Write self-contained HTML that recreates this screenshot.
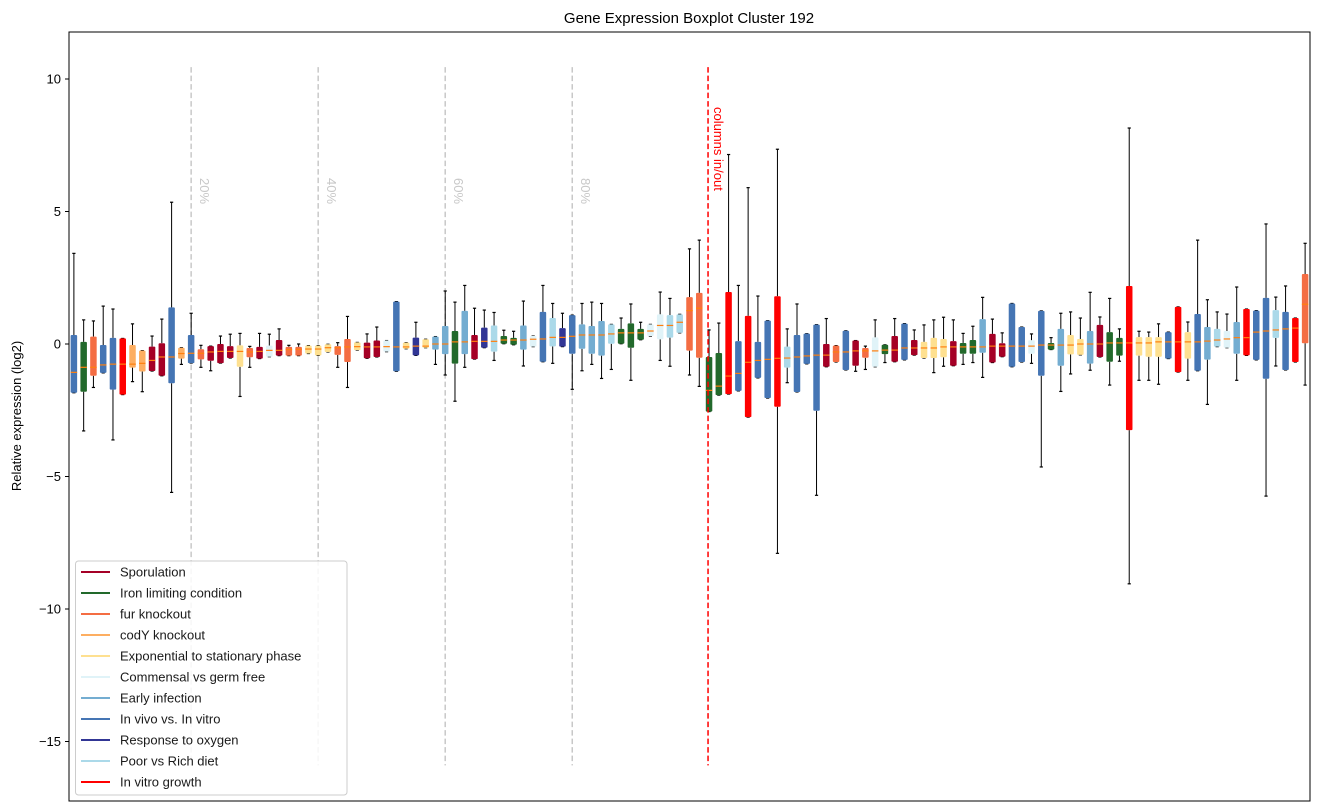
<!DOCTYPE html>
<html><head><meta charset="utf-8"><title>Gene Expression Boxplot Cluster 192</title>
<style>
html,body{margin:0;padding:0;background:#fff;}
svg{display:block;font-family:"Liberation Sans","DejaVu Sans",sans-serif;}
</style></head>
<body>
<svg id="chart" width="1318" height="812" viewBox="0 0 1318 812" xmlns="http://www.w3.org/2000/svg">
<rect x="0" y="0" width="1318" height="812" fill="#fff"/>
<text x="689" y="23" text-anchor="middle" font-size="15" fill="#000">Gene Expression Boxplot Cluster 192</text>
<text transform="translate(21,416) rotate(-90)" text-anchor="middle" font-size="13" fill="#000">Relative expression (log2)</text>
<g id="plot"></g>
<rect x="69" y="32" width="1241" height="769" fill="none" stroke="#000" stroke-width="1"/>
</svg>
<script>
const groupNames = ["Sporulation","Iron limiting condition","fur knockout","codY knockout","Exponential to stationary phase","Commensal vs germ free","Early infection","In vivo vs. In vitro","Response to oxygen","Poor vs Rich diet","In vitro growth"];
const groupColors = ["#a50026","#22692b","#f46d43","#fdae61","#fee090","#e0f3f8","#74add1","#4575b4","#313695","#abd9e9","#ff0000"];
// group index per box (S0 I1 F2 C3 E4 M5 A6 V7 O8 P9 R10)
const boxGroup = [7,1,2,7,7,10,3,3,0,0,7,3,7,2,0,0,0,4,2,0,5,0,2,2,4,4,4,2,2,4,0,0,5,7,4,8,4,6,6,1,6,0,8,9,1,1,6,5,7,9,8,7,6,6,6,9,1,1,1,5,5,9,9,2,2,1,1,10,7,10,7,7,10,9,7,7,7,0,2,7,0,2,5,1,0,7,0,4,4,4,0,1,1,6,0,0,7,7,5,7,1,6,4,4,6,0,1,1,10,4,4,4,7,10,4,7,6,9,5,6,10,7,7,9,7,10,2];
const whiskerHigh = [3.42,0.91,0.87,1.43,1.32,0.21,0.76,-0.25,0.30,0.94,5.35,-0.14,1.16,-0.05,-0.08,0.30,0.37,0.40,-0.09,0.40,0.37,0.57,-0.05,0.00,-0.06,-0.06,-0.01,0.05,1.04,0.06,0.38,0.64,0.13,1.60,0.05,0.82,0.18,0.28,2.00,1.58,2.21,1.35,1.28,1.19,0.52,0.48,1.62,0.30,2.21,1.53,1.16,1.09,1.53,1.58,1.53,0.74,0.98,1.51,0.82,0.74,1.96,1.72,1.12,3.59,3.92,0.53,0.79,7.15,2.21,5.90,1.81,0.88,7.35,0.57,1.51,0.39,0.73,0.96,-0.06,0.50,0.13,-0.08,0.91,-0.03,0.96,0.77,0.53,0.72,0.91,1.01,0.91,0.40,0.67,1.76,0.94,0.42,1.53,0.64,0.38,1.25,0.24,1.16,1.21,0.98,1.95,1.02,1.72,0.57,8.15,0.48,0.45,0.76,0.45,1.40,0.83,3.92,1.67,1.21,1.13,2.15,1.32,1.26,4.53,1.77,2.19,0.98,3.80];
const q3 = [0.34,0.08,0.28,-0.04,0.23,0.21,-0.04,-0.25,-0.10,0.03,1.38,-0.14,0.34,-0.20,-0.08,0.00,-0.08,-0.05,-0.15,-0.11,-0.06,0.15,-0.11,-0.11,-0.06,-0.06,-0.01,-0.08,0.19,0.06,0.05,0.13,0.13,1.60,0.05,0.24,0.18,0.28,0.68,0.49,1.25,0.34,0.62,0.70,0.30,0.23,0.70,0.30,1.21,0.98,0.60,1.09,0.74,0.68,0.87,0.74,0.57,0.78,0.57,0.74,1.12,1.09,1.12,1.77,1.93,-0.49,-0.34,1.96,0.11,1.06,0.08,0.88,1.80,-0.10,0.34,0.39,0.73,0.00,-0.06,0.50,0.13,-0.15,0.25,-0.03,0.30,0.77,0.15,0.08,0.23,0.19,0.11,0.04,0.15,0.94,0.38,0.03,1.53,0.64,0.14,1.25,0.04,0.57,0.34,0.19,0.49,0.72,0.45,0.23,2.19,0.26,0.26,0.26,0.45,1.40,0.45,1.13,0.64,0.57,0.49,0.83,1.32,1.26,1.74,1.28,1.21,0.98,2.64];
const medians = [-1.07,-0.88,-0.88,-0.79,-0.76,-0.76,-0.76,-0.73,-0.62,-0.49,-0.49,-0.36,-0.35,-0.35,-0.30,-0.28,-0.28,-0.28,-0.30,-0.28,-0.24,-0.24,-0.21,-0.20,-0.19,-0.19,-0.14,-0.14,-0.11,-0.10,-0.11,-0.11,-0.10,-0.11,-0.11,-0.08,-0.08,0.00,0.00,0.08,0.08,0.10,0.10,0.10,0.15,0.15,0.15,0.18,0.19,0.25,0.25,0.29,0.34,0.34,0.34,0.38,0.42,0.42,0.42,0.49,0.70,0.70,0.82,1.26,1.35,-1.75,-1.59,-1.21,-1.11,-0.69,-0.62,-0.58,-0.54,-0.53,-0.49,-0.45,-0.42,-0.42,-0.30,-0.30,-0.26,-0.26,-0.26,-0.23,-0.23,-0.15,-0.15,-0.15,-0.15,-0.11,-0.11,-0.11,-0.11,-0.11,-0.08,-0.08,-0.08,-0.08,-0.08,-0.04,-0.04,-0.04,-0.04,0.00,0.00,0.00,0.04,0.04,0.04,0.04,0.04,0.08,0.08,0.08,0.08,0.08,0.11,0.15,0.19,0.24,0.24,0.45,0.49,0.53,0.57,0.60,1.50];
const q1 = [-1.84,-1.80,-1.20,-1.09,-1.72,-1.91,-0.89,-1.04,-1.02,-1.20,-1.48,-0.55,-0.72,-0.58,-0.63,-0.72,-0.53,-0.86,-0.50,-0.55,-0.48,-0.44,-0.44,-0.44,-0.36,-0.43,-0.30,-0.41,-0.68,-0.23,-0.54,-0.49,-0.29,-1.03,-0.18,-0.43,-0.14,-0.21,-0.38,-0.74,-0.38,-0.57,-0.14,-0.29,0.01,-0.03,-0.21,-0.10,-0.67,-0.09,-0.10,-0.37,-0.18,-0.37,-0.44,0.01,0.01,-0.14,0.16,0.30,0.18,0.24,0.42,-0.25,-0.52,-2.55,-1.93,-1.89,-1.77,-2.76,-1.28,-2.04,-2.37,-0.89,-1.81,-0.75,-2.52,-0.86,-0.68,-0.98,-0.82,-0.52,-0.86,-0.38,-0.67,-0.60,-0.42,-0.53,-0.53,-0.50,-0.82,-0.37,-0.37,-0.33,-0.70,-0.48,-0.86,-0.68,-0.37,-1.20,-0.21,-0.82,-0.39,-0.41,-0.74,-0.49,-0.67,-0.44,-3.25,-0.44,-0.48,-0.48,-0.55,-1.06,-0.55,-1.01,-0.59,-0.10,-0.14,-0.37,-0.43,-0.60,-1.31,0.23,-0.98,-0.68,0.03];
const whiskerLow = [-1.84,-3.28,-1.64,-1.09,-3.62,-1.91,-1.42,-1.80,-1.02,-1.20,-5.60,-0.77,-0.72,-0.88,-1.01,-0.72,-0.53,-1.98,-0.88,-0.55,-0.48,-0.44,-0.44,-0.44,-0.36,-0.43,-0.30,-0.88,-1.64,-0.23,-0.54,-0.49,-0.29,-1.03,-0.18,-0.43,-0.14,-0.77,-1.17,-2.16,-0.88,-0.57,-0.14,-0.62,0.01,-0.03,-0.83,-0.10,-0.67,-0.73,-0.10,-1.71,-1.01,-0.77,-1.30,-0.96,0.01,-1.37,0.16,0.30,-0.62,-0.84,0.42,-1.17,-1.60,-2.55,-1.93,-1.89,-1.77,-2.76,-1.28,-2.04,-7.90,-1.46,-1.81,-0.75,-5.71,-0.86,-0.68,-0.98,-1.03,-0.96,-0.86,-0.70,-0.67,-0.60,-0.42,-0.53,-1.08,-0.84,-0.82,-0.77,-0.70,-1.26,-0.70,-0.48,-0.86,-0.68,-0.73,-4.64,-0.21,-1.79,-1.13,-0.41,-0.99,-0.49,-1.55,-0.65,-9.05,-1.37,-1.37,-1.52,-0.55,-1.06,-1.37,-1.01,-2.28,-0.10,-0.14,-1.37,-0.43,-0.60,-5.74,-0.83,-0.98,-0.68,-1.55];
const yTicks = [10,5,0,-5,-10,-15];
const percentPositions = [13,26,39,52];
const percentLabels = ["20%","40%","60%","80%"];
const splitPosition = 66;

const NS = "http://www.w3.org/2000/svg";
const plot = document.getElementById("plot");
const X0 = 69, STEP = 1241/127;
function xPos(p){ return X0 + (p-0.5)*STEP; }
function yPos(v){ return 344 - 26.5*v; }
function mk(tag, attrs, parent){
  const el = document.createElementNS(NS, tag);
  for (const k in attrs) el.setAttribute(k, attrs[k]);
  (parent||plot).appendChild(el);
  return el;
}

yTicks.forEach(t=>{
  const y = yPos(t);
  const tk = mk("line",{x1:65,x2:69,y1:y,y2:y,stroke:"#000","stroke-width":1});
  
  
  const lb = mk("text",{x:61,y:y+4.5,"text-anchor":"end","font-size":13,fill:"#000"});
  
  
  lb.textContent = t<0 ? "\u2212"+Math.abs(t) : String(t);
});

percentPositions.forEach((p,i)=>{
  const x = xPos(p);
  const ln = mk("line",{x1:x,x2:x,y1:yPos(10.45),y2:yPos(-15.9),stroke:"#c8c8c8","stroke-width":1.5,"stroke-dasharray":"5.5,3"});
  
  
  const tx = mk("text",{transform:`translate(${x+9},${178}) rotate(90)`,"font-size":13,fill:"#c8c8c8"});
  
  
  tx.textContent = percentLabels[i];
});

for (let i=0;i<boxGroup.length;i++){
  const x = xPos(i+1), w = 6.5, c = 3.2;
  const g = mk("g",{});
  
  
  const yh=yPos(whiskerHigh[i]), y3=yPos(q3[i]), ym=yPos(medians[i]), y1=yPos(q1[i]), yl=yPos(whiskerLow[i]);
  mk("line",{x1:x,x2:x,y1:yh,y2:y3,stroke:"#000","stroke-width":1},g);
  mk("line",{x1:x,x2:x,y1:y1,y2:yl,stroke:"#000","stroke-width":1},g);
  mk("line",{x1:x-c/2,x2:x+c/2,y1:yh,y2:yh,stroke:"#000","stroke-width":1.2},g);
  mk("line",{x1:x-c/2,x2:x+c/2,y1:yl,y2:yl,stroke:"#000","stroke-width":1.2},g);
  mk("rect",{x:x-w/2,y:y3,width:w,height:Math.max(1,y1-y3),fill:groupColors[boxGroup[i]],rx:1},g);
  mk("line",{x1:x-w/2,x2:x+w/2,y1:ym,y2:ym,stroke:"#ff7f0e","stroke-width":1.2},g);
}

{
  const x = xPos(splitPosition)-1;
  const ln = mk("line",{x1:x,x2:x,y1:yPos(10.45),y2:yPos(-15.9),stroke:"#ff0000","stroke-width":1.5,"stroke-dasharray":"5.5,3"});
  
  
  const tx = mk("text",{transform:`translate(${x+6},${107}) rotate(90)`,"font-size":13,fill:"#ff0000"});
  
  
  tx.textContent = "columns in/out";
}

{
  const lg = mk("g",{});
  
  
  mk("rect",{x:75.5,y:561,width:271.5,height:234,rx:3,fill:"#fff","fill-opacity":0.85,stroke:"#cccccc","stroke-width":1},lg);
  groupNames.forEach((n,k)=>{
    const y = 572 + 21*k;
    const e = mk("g",{},lg);
    
    
    mk("line",{x1:81,x2:110,y1:y,y2:y,stroke:groupColors[k],"stroke-width":2},e);
    const t = mk("text",{x:120,y:y+4.5,"font-size":13,fill:"#1a1a1a"},e);
    t.textContent = n;
  });
}
</script>
</body></html>
